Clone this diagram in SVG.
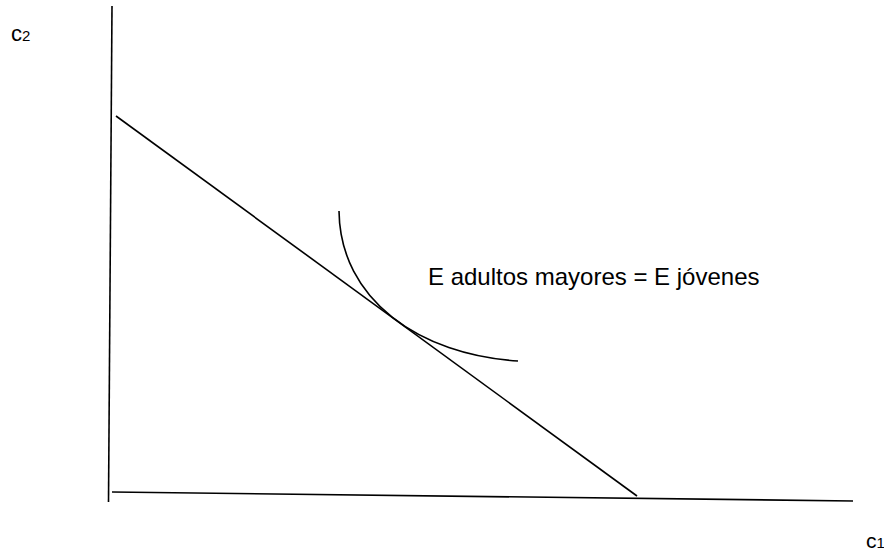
<svg xmlns="http://www.w3.org/2000/svg" width="884" height="551" viewBox="0 0 884 551">
<style>
.ln{fill:none;stroke:#000;stroke-width:1.6}
.t{font-family:"Liberation Sans",Arial,sans-serif;fill:#000}
</style>
<rect width="884" height="551" fill="#fff"/>
<g id="axes">
<line class="ln" x1="112" y1="6" x2="108.5" y2="502"/>
<line class="ln" x1="112" y1="492" x2="853" y2="501"/>
</g>
<g id="connectors">
<line id="budget" class="ln" x1="116" y1="116" x2="637" y2="496"/>
<path id="indiff" class="ln" d="M339,211 C340,300 420,355 518,361"/>
</g>
<g id="labels">
<text class="t" x="11" y="41" font-size="22">c<tspan font-size="15">2</tspan></text>
<text class="t" x="866" y="548" font-size="21">c<tspan font-size="15">1</tspan></text>
<text class="t" x="428" y="285" font-size="24">E adultos mayores = E jóvenes</text>
</g>
</svg>
